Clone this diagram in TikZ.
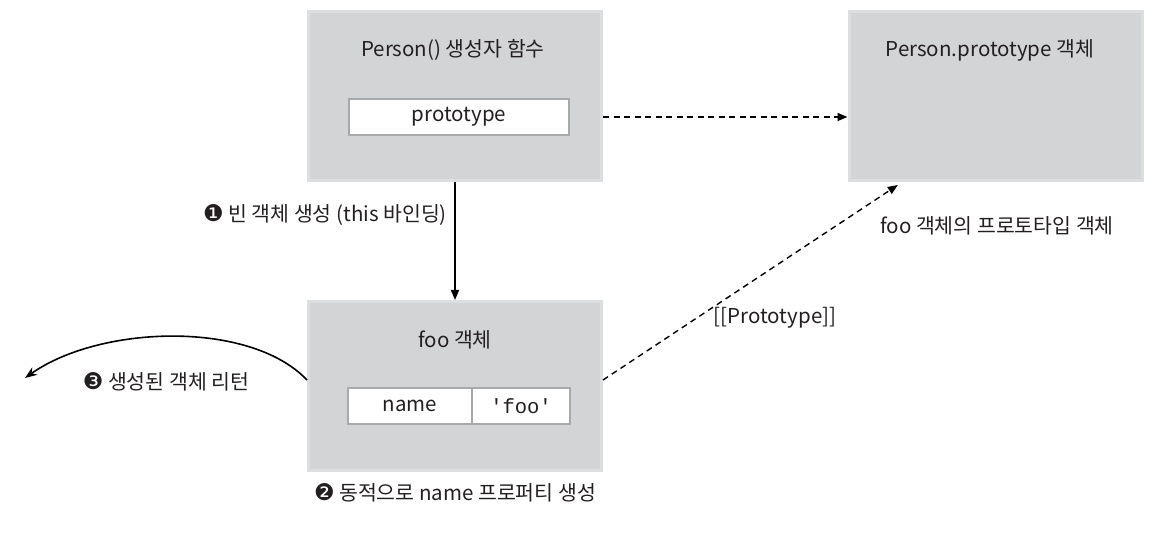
\documentclass[tikz,border=0pt]{standalone}
\usepackage{fontspec}
\setmainfont{Noto Sans CJK KR}
\setmonofont{Liberation Mono}
\newfontfamily\dingfont{DejaVu Sans}
\usetikzlibrary{arrows.meta,positioning,calc}
\definecolor{objfill}{HTML}{D3D4D6}
\definecolor{objrim}{HTML}{DDDEE0}
\definecolor{slotline}{HTML}{A8A9AB}
\definecolor{inktext}{HTML}{231F20}

\newcommand{\stepmark}[1]{{\dingfont\fontsize{23}{24}\selectfont #1}}
\tikzset{
  objbox/.style={fill=objfill,draw=objrim,line width=3pt,minimum width=293pt,
    minimum height=169pt,inner sep=0pt},
  slotbox/.style={fill=white,draw=slotline,line width=2.5pt,minimum height=36pt,
    inner sep=0pt,outer sep=0pt,font=\fontsize{20.5}{24}\selectfont,text=inktext},
  lbl/.style={font=\fontsize{20.5}{24}\selectfont,text=inktext,inner sep=1pt},
  tri/.style={-{Triangle[length=10pt,width=8pt]}},
  dashlink/.style={tri,line width=1.4pt,dash pattern=on 6pt off 4.5pt}
}

\begin{document}
\begin{tikzpicture}[x=1pt,y=-1pt]
  \useasboundingbox (0,0) rectangle (1168,534);
  % objects
  \node[objbox] (ctor) at (455,96) {};
  \node[objbox] (proto) at (995.5,96) {};
  \node[objbox] (foo) at (455,386) {};
  \node[lbl] (ctortitle) at (453,50) {Person() 생성자 함수};
  \node[lbl] (prototitle) at (990,50) {Person.prototype 객체};
  \node[lbl] (footitle) at (455,340) {foo 객체};
  \node[slotbox,minimum width=220pt] (protoslot) at (459,117) {prototype};
  \node[slotbox,minimum width=124pt] (nameslot) at (410,406) {name};
  \node[slotbox,minimum width=98pt,right=0pt of nameslot] (valslot) {\ttfamily 'foo'};
  % links
  \draw[dashlink] (ctor.east |- protoslot.center) -- (proto.west |- protoslot.center);
  \draw[tri,line width=1.6pt] (ctor.south) -- (foo.north);
  \draw[dashlink] ([yshift=6pt]foo.east) -- ($(proto.south west)!0.17!(proto.south east)+(0,3)$);
  \coordinate (ret) at (25,378);
  \draw[-{Stealth[length=12pt,width=9pt]},line width=1.6pt] ([yshift=6pt]foo.west)
    .. controls (250,320) and (100,325) .. (ret);
  % labels
  \node[lbl,anchor=east] (step1) at (448,215) {\stepmark{❶} 빈 객체 생성 (this 바인딩)};
  \node[lbl] (protolink) at (775,318) {[[Prototype]]};
  \node[lbl] (protonote) at (997,226) {foo 객체의 프로토타입 객체};
  \node[lbl] (step3) at (166,382) {\stepmark{❸} 생성된 객체 리턴};
  \node[lbl] (step2) at (455,493) {\stepmark{❷} 동적으로 name 프로퍼티 생성};
\end{tikzpicture}
\end{document}
